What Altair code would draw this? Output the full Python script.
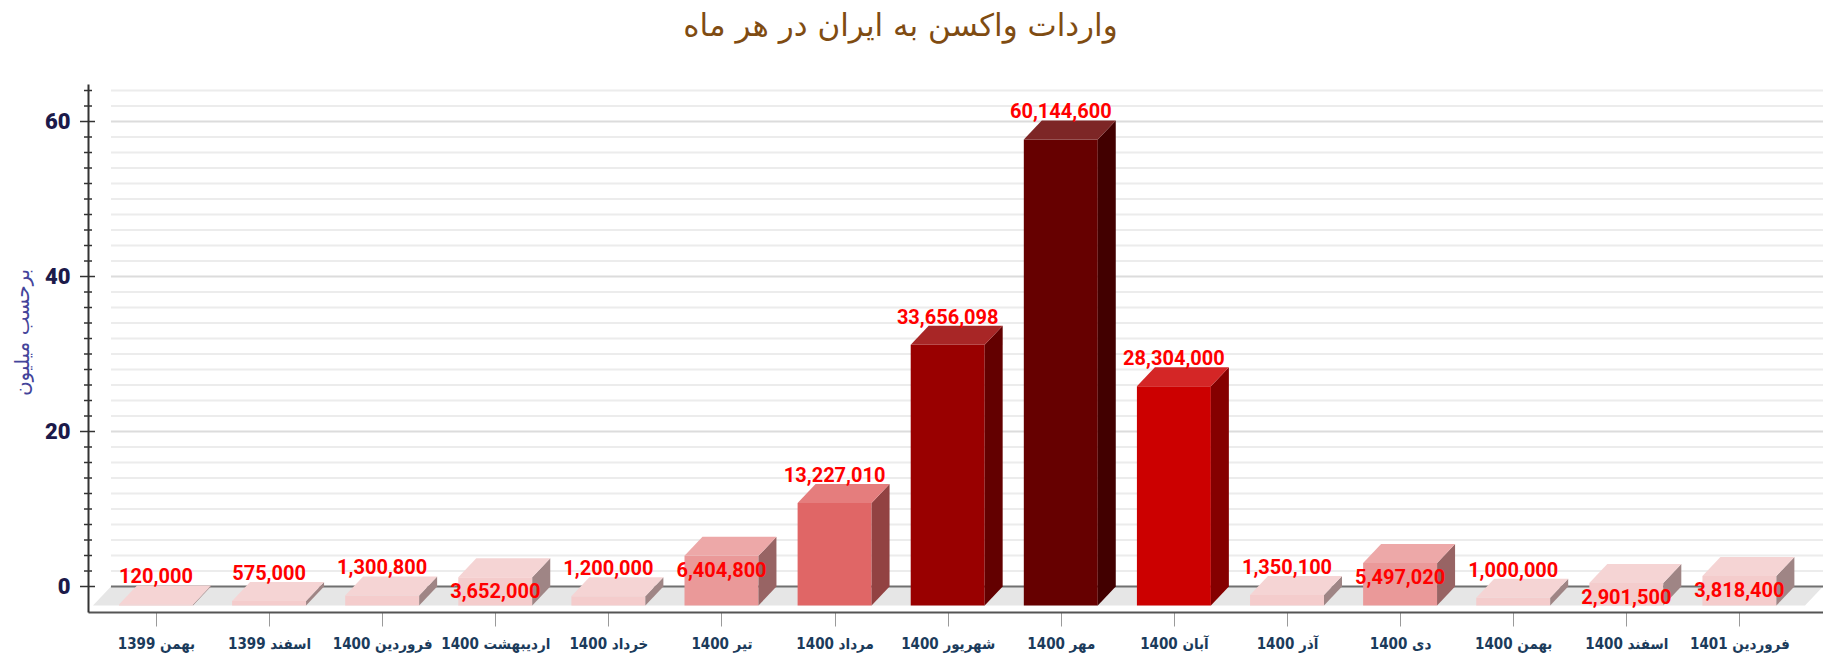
import json
import altair as alt
import pandas as pd

# ---------------- data ----------------
months = ["بهمن 1399", "اسفند 1399", "فروردین 1400", "اردیبهشت 1400", "خرداد 1400",
          "تیر 1400", "مرداد 1400", "شهریور 1400", "مهر 1400", "آبان 1400",
          "آذر 1400", "دی 1400", "بهمن 1400", "اسفند 1400", "فروردین 1401"]
doses = [120000, 575000, 1300800, 3652000, 1200000,
         6404800, 13227010, 33656098, 60144600, 28304000,
         1350100, 5497020, 1000000, 2901500, 3818400]
label_place = ["above", "above", "above", "inside", "above",
               "inside", "above", "above", "above", "above",
               "above", "inside", "above", "inside", "inside"]
y_ticks = list(range(0, 65, 2))
color_breaks = [5, 10, 20, 30, 40]
front_colors = ["#f4cccc", "#ea9999", "#e06666", "#cc0000", "#990000", "#660000"]
side_colors = ["#9f8585", "#986464", "#924242", "#850000", "#630000", "#420000"]
top_colors = ["#f5d4d4", "#eda8a8", "#e57d7d", "#d42626", "#a82626", "#7d2626"]

title_text = "واردات واکسن به ایران در  هر ماه"
y_title = "برحسب میلیون"

# ---------------- geometry (style) ----------------
HALF = 0.327      # half width of front face, in category units
DX = 0.159        # depth, horizontal (category units)
DY = 2.45         # depth, vertical (value units)
X_MIN, X_MAX = -0.601, 14.739
Y_MIN, Y_MAX = -3.29, 64.84
FLOOR_L, FLOOR_R = -0.557, 14.58
W, H = 1735, 528

xs = alt.Scale(domain=[X_MIN, X_MAX], nice=False, zero=False)
ys = alt.Scale(domain=[Y_MIN, Y_MAX], nice=False, zero=False)

label_expr = json.dumps(months, ensure_ascii=False) + "[datum.value]"
XLABEL_FONT = "DejaVu Sans Condensed, DejaVu Sans, sans-serif"
VALUE_FONT = "Roboto, Liberation Sans, sans-serif"

x_axis = alt.Axis(
    values=list(range(len(months))), labelExpr=label_expr, title=None, grid=False,
    tickSize=14, tickColor="#9a9a9a", tickWidth=1,
    domainColor="#555555", domainWidth=2,
    labelFont=XLABEL_FONT, labelFontWeight="bold", labelFontSize=15,
    labelColor="#1b3b5b", labelPadding=10, labelOverlap=False, labelFlush=False,
    labelBound=False)
y_axis = alt.Axis(
    values=y_ticks, labelExpr="datum.value % 20 == 0 ? datum.value : ''",
    grid=False, ticks=False,
    domainColor="#333333", domainWidth=2,
    labelFont="Roboto, Liberation Sans, sans-serif", labelFontWeight=900, labelFontSize=22,
    labelColor="#1c1a4a", labelPadding=18,
    title=y_title, titleFont="DejaVu Sans", titleFontSize=20, titleFontWeight="normal",
    titleColor="#44449a", titleX=-66, titleY=248, titleBaseline="middle", titleAngle=270)

vals = [d / 1e6 for d in doses]

front = pd.DataFrame({
    "i": list(range(len(months))),
    "m": vals,
    "xl": [i - HALF for i in range(len(months))],
    "xr": [i + HALF for i in range(len(months))],
    "yb": [-DY] * len(months),
    "yt": [v - DY for v in vals],
})

top_rows, side_rows, label_rows = [], [], []
for i, v in enumerate(vals):
    top_rows.append({"i": i, "m": v, "y": v - DY, "xa": i - HALF, "xb": i + HALF})
    top_rows.append({"i": i, "m": v, "y": v, "xa": i - HALF + DX, "xb": i + HALF + DX})
    side_rows.append({"i": i, "m": v, "x": i + HALF, "ya": -DY, "yb": v - DY})
    side_rows.append({"i": i, "m": v, "x": i + HALF + DX, "ya": 0.0, "yb": v})
    if label_place[i] == "above":
        ly = v + 1.05
    else:
        ly = v - DY - 1.9
    label_rows.append({"x": i, "y": ly, "t": f"{doses[i]:,}"})
tops = pd.DataFrame(top_rows)
sides = pd.DataFrame(side_rows)
labels = pd.DataFrame(label_rows)

floor = pd.DataFrame([
    {"y": -DY, "xa": FLOOR_L, "xb": FLOOR_R},
    {"y": 0.0, "xa": FLOOR_L + DX, "xb": FLOOR_R + DX},
])
zero = pd.DataFrame([{"y": 0.0, "xa": FLOOR_L + DX, "xb": X_MAX}])
grid = pd.DataFrame({"y": y_ticks[1:], "xa": FLOOR_L + DX, "xb": X_MAX})
grid["major"] = grid["y"] % 20 == 0
axis_ticks = pd.DataFrame({"y": y_ticks, "x": X_MIN})
axis_ticks["major"] = axis_ticks["y"] % 20 == 0


def thr(rng):
    return alt.Scale(type="threshold", domain=color_breaks, range=rng)


def X(field):
    return alt.X(field, scale=xs, axis=x_axis)


def Y(field):
    return alt.Y(field, scale=ys, axis=y_axis)


floor_layer = alt.Chart(floor).mark_area(orient="horizontal", color="#e6e6e6").encode(
    y=Y("y:Q"), x=X("xa:Q"), x2="xb:Q",
)

grid_minor = alt.Chart(grid).transform_filter("!datum.major").mark_rule(
    strokeWidth=2, color="#ececec").encode(y=Y("y:Q"), x=X("xa:Q"), x2="xb:Q")
grid_major = alt.Chart(grid).transform_filter("datum.major").mark_rule(
    strokeWidth=2, color="#dcdcdc").encode(y=Y("y:Q"), x=X("xa:Q"), x2="xb:Q")

zero_layer = alt.Chart(zero).mark_rule(strokeWidth=2, color="#707070").encode(
    y=Y("y:Q"), x=X("xa:Q"), x2="xb:Q",
)

# cross-shaped y-axis ticks (straddling the axis line)
tick_minor = alt.Chart(axis_ticks).transform_filter("!datum.major").mark_rule(
    strokeWidth=1.5, color="#333333", xOffset=-4, x2Offset=4).encode(
    y=Y("y:Q"), x=X("x:Q"), x2="x:Q")
tick_major = alt.Chart(axis_ticks).transform_filter("datum.major").mark_rule(
    strokeWidth=1.5, color="#333333", xOffset=-8, x2Offset=7).encode(
    y=Y("y:Q"), x=X("x:Q"), x2="x:Q")

front_layer = alt.Chart(front).mark_rect().encode(
    x=X("xl:Q"), x2="xr:Q", y=Y("yb:Q"), y2="yt:Q",
    fill=alt.Fill("m:Q", scale=thr(front_colors), legend=None),
)

side_layer = alt.Chart(sides).mark_area().encode(
    x=X("x:Q"), y=Y("ya:Q"), y2="yb:Q", detail="i:N",
    fill=alt.Fill("m:Q", scale=thr(side_colors), legend=None),
)

top_layer = alt.Chart(tops).mark_area(orient="horizontal").encode(
    y=Y("y:Q"), x=X("xa:Q"), x2="xb:Q", detail="i:N",
    fill=alt.Fill("m:Q", scale=thr(top_colors), legend=None),
)

label_layer = alt.Chart(labels).mark_text(
    font=VALUE_FONT, fontWeight="bold", fontSize=20, color="#ff0000",
    baseline="middle", align="center").encode(
    x=X("x:Q"), y=Y("y:Q"), text="t:N",
)

chart = alt.layer(
    floor_layer, grid_minor, grid_major, zero_layer, tick_minor, tick_major,
    front_layer, side_layer, top_layer, label_layer
).resolve_scale(fill="independent").properties(
    width=W, height=H,
    autosize=alt.AutoSizeParams(type="none"),
    padding={"left": 80, "top": 76, "right": 0, "bottom": 45},
    title=alt.TitleParams(title_text, font="DejaVu Sans", fontSize=31, fontWeight="normal",
                          color="#7f4c12", anchor="middle", dx=-55, offset=41),
).configure_view(stroke=None)

chart.save("out.html", embed_options={"renderer": "svg", "actions": False})
